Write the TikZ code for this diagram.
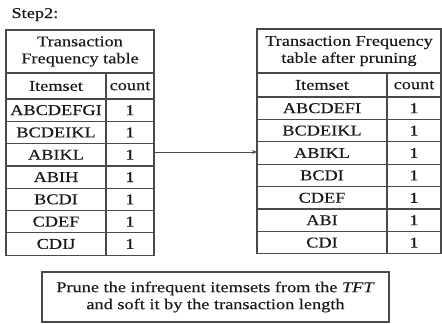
\documentclass[tikz,border=0pt]{standalone}
\usepackage{fontspec}
\setmainfont{Liberation Serif}[FakeStretch=1.22,FakeBold=0.25]
\usetikzlibrary{arrows.meta}
\definecolor{rule}{HTML}{4A4A4A}
\begin{document}
\begin{tikzpicture}[x=1pt,y=-1pt,
  font=\fontsize{15}{17}\selectfont,
  cell/.style={draw=rule, line width=1.2pt, inner sep=0pt, anchor=center, text=black!90},
  hdr/.style={cell, align=center},
  note/.style={draw=rule, line width=1.2pt, align=center, inner sep=0pt, text=black!90}]
\useasboundingbox (0,0) rectangle (442,324);
\node[anchor=base west, text=black!90] (step) at (8,18) {Step2:};
% left table
\node[hdr, minimum width=148pt, minimum height=43pt] (lh) at (80,51.5) {Transaction\\Frequency table};
\node[cell, minimum width=100pt, minimum height=26pt] (lic) at (56,86) {Itemset};
\node[cell, minimum width=48pt, minimum height=26pt] (lcc) at (130,86) {count};
\foreach \t [count=\i] in {ABCDEFGI,BCDEIKL,ABIKL,ABIH,BCDI,CDEF,CDIJ}{
  \node[cell, minimum width=100pt, minimum height=22.3pt] (li\i) at (56,{99+22.3*(\i-0.5)}) {\t};
  \node[cell, minimum width=48pt, minimum height=22.3pt] (lc\i) at (130,{99+22.3*(\i-0.5)}) {1};
}
% right table
\node[hdr, minimum width=184pt, minimum height=44pt] (rh) at (349,51) {Transaction Frequency\\table after pruning};
\node[cell, minimum width=130pt, minimum height=24pt] (ric) at (322,85) {Itemset};
\node[cell, minimum width=54pt, minimum height=24pt] (rcc) at (414,85) {count};
\foreach \t [count=\i] in {ABCDEFI,BCDEIKL,ABIKL,BCDI,CDEF,ABI,CDI}{
  \node[cell, minimum width=130pt, minimum height=22.4pt] (ri\i) at (322,{97+22.4*(\i-0.5)}) {\t};
  \node[cell, minimum width=54pt, minimum height=22.4pt] (rc\i) at (414,{97+22.4*(\i-0.5)}) {1};
}
\coordinate (as) at (154,152);
\coordinate (ae) at (257,152);
\draw[rule, line width=0.8pt, -{Stealth[length=5pt,width=4pt]}] (as) -- (ae);
\node[note, minimum width=347pt, minimum height=50pt] (nb) at (215.5,297)
  {Prune the infrequent itemsets from the \textit{TFT}\\and soft it by the transaction length};
\end{tikzpicture}
\end{document}
